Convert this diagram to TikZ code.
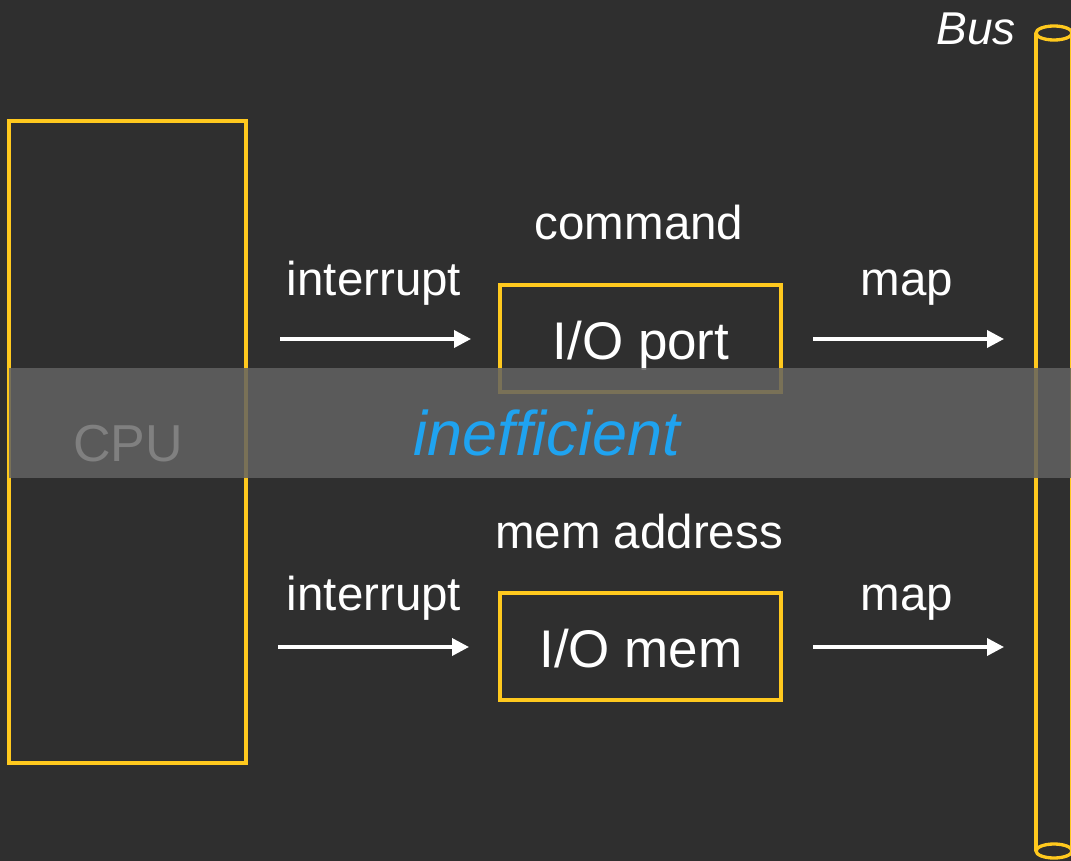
\documentclass[tikz,border=0pt]{standalone}
\usepackage{fontspec}
\setmainfont{Liberation Sans}
\usetikzlibrary{arrows.meta}
\definecolor{bg}{HTML}{2F2F2F}
\definecolor{ylw}{HTML}{FFC91E}
\definecolor{blu}{HTML}{1FA3F0}
\definecolor{bandc}{HTML}{626262}
\definecolor{cpuc}{HTML}{808080}
\begin{document}
\begin{tikzpicture}[x=1pt,y=-1pt,
  boxy/.style={draw=ylw,line width=3.3pt},
  lbl/.style={text=white,font=\fontsize{47.5}{56}\selectfont,anchor=base,inner sep=0pt},
  boxlbl/.style={text=white,font=\fontsize{53}{62}\selectfont,anchor=base,inner sep=0pt},
  arr/.style={draw=white,line width=3.6pt,-{Triangle[length=17pt,width=17pt]}}]
\fill[bg] (0,0) rectangle (1071,861);
\useasboundingbox (0,0) rectangle (1071,861);
% CPU
\draw[boxy] (9,121) rectangle (246,763);
% bus
\draw[ylw,line width=3.3pt] (1036,33) -- (1036,851);
\draw[ylw,line width=3.3pt] (1072,33) -- (1072,851);
\draw[ylw,line width=3.3pt] (1054,33) ellipse [x radius=18,y radius=7];
\draw[ylw,line width=3.3pt] (1054,851) ellipse [x radius=18,y radius=7];
\node[text=white,font=\itshape\fontsize{46}{54}\selectfont,anchor=base,inner sep=0pt] (bus) at (976,45) {Bus};
% boxes
\draw[boxy] (500,285) rectangle (781,392);
\draw[boxy] (500,593) rectangle (781,700);
\node[boxlbl] (port) at (641,359) {I/O port};
\node[boxlbl] (mem) at (641,667) {I/O mem};
\node[lbl] (cmd) at (639,240) {command};
\node[lbl] (madr) at (639,548) {mem address};
\node[lbl] (int1) at (374,295) {interrupt};
\node[lbl] (int2) at (374,610) {interrupt};
\node[lbl] (map1) at (907,295) {map};
\node[lbl] (map2) at (907,610) {map};
% arrows
\coordinate (a1s) at (280,339); \coordinate (a1e) at (471,339);
\coordinate (a2s) at (813,339); \coordinate (a2e) at (1004,339);
\coordinate (a3s) at (278,647); \coordinate (a3e) at (469,647);
\coordinate (a4s) at (813,647); \coordinate (a4e) at (1004,647);
\draw[arr] (a1s) -- (a1e);
\draw[arr] (a2s) -- (a2e);
\draw[arr] (a3s) -- (a3e);
\draw[arr] (a4s) -- (a4e);
% band
\fill[bandc,opacity=0.85] (9,368) rectangle (1071,478);
\node[text=cpuc,font=\fontsize{52}{60}\selectfont,anchor=base,inner sep=0pt] (cpu) at (128,461) {CPU};
\node[text=blu,font=\itshape\fontsize{63}{72}\selectfont,anchor=base,inner sep=0pt] (ineff) at (547,455) {inefficient};
\end{tikzpicture}
\end{document}
